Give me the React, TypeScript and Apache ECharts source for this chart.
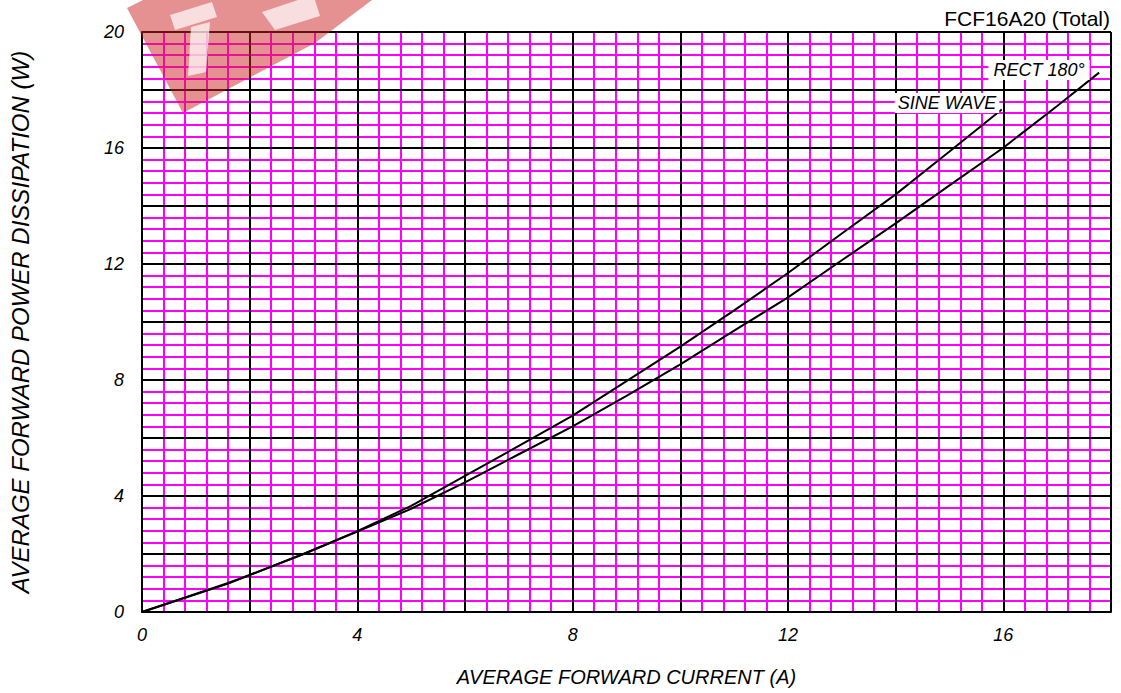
import React, { useEffect, useRef } from "react";
import * as echarts from "echarts";

const xTicks = [0, 4, 8, 12, 16];
const yTicks = [0, 4, 8, 12, 16, 20];

const sineX = [0, 1.6, 2, 3, 4, 5, 6, 7, 8, 9, 10, 11, 12, 13, 14, 15, 15.97];
const sineY = [0, 1.0, 1.28, 2.0, 2.79, 3.66, 4.69, 5.73, 6.77, 7.96, 9.15, 10.4, 11.69, 13.05, 14.4, 15.88, 17.33];

const rectX = [0, 1.6, 2, 3, 4, 5, 6, 7, 8, 9, 10, 11, 12, 13, 14, 15, 16, 17, 17.78];
const rectY = [0, 0.98, 1.27, 2.0, 2.77, 3.56, 4.47, 5.44, 6.4, 7.45, 8.54, 9.7, 10.85, 12.13, 13.4, 14.71, 16.01, 17.45, 18.6];

const titleText = "FCF16A20 (Total)";
const xName = "AVERAGE FORWARD CURRENT (A)";
const yName = "AVERAGE FORWARD POWER DISSIPATION (W)";
const sineLabel = "SINE WAVE";
const rectLabel = "RECT 180°";

const FONT = "'Liberation Sans', Arial, sans-serif";

export default function App() {
  const ref = useRef<HTMLDivElement>(null);
  useEffect(() => {
    if (!ref.current) return;
    const chart = echarts.init(ref.current, null, { renderer: "svg" });
    const pair = (xs: number[], ys: number[]) => xs.map((x, i) => [x, ys[i]]);
    const minorAxisCommon = {
      type: "value",
      min: 0,
      axisLine: { show: false },
      axisTick: { show: false },
      axisLabel: { show: false },
      splitLine: { show: true, lineStyle: { color: "#ff00ff", width: 2 } },
      z: 0,
    };
    const option: any = {
      animation: false,
      backgroundColor: "#ffffff",
      grid: { left: 140, right: 10, top: 32, bottom: 81, containLabel: false },
      xAxis: [
        { ...minorAxisCommon, max: 18, interval: 0.4, position: "bottom" },
        {
          type: "value",
          min: 0,
          max: 18,
          interval: 2,
          position: "bottom",
          z: 1,
          axisLine: { show: true, lineStyle: { color: "#000", width: 2 } },
          axisTick: { show: false },
          splitLine: { show: true, lineStyle: { color: "#000", width: 2 } },
          axisLabel: {
            margin: 14,
            fontFamily: FONT,
            fontStyle: "italic",
            fontSize: 18,
            color: "#000",
            formatter: (v: number) => (xTicks.includes(v) ? String(v) : ""),
          },
          name: xName,
          nameLocation: "middle",
          nameGap: 55,
          nameTextStyle: { fontFamily: FONT, fontStyle: "italic", fontSize: 20, color: "#000" },
        },
      ],
      yAxis: [
        { ...minorAxisCommon, max: 20, interval: 0.4, position: "left" },
        {
          type: "value",
          min: 0,
          max: 20,
          interval: 2,
          position: "left",
          z: 1,
          axisLine: { show: true, lineStyle: { color: "#000", width: 2 } },
          axisTick: { show: false },
          splitLine: { show: true, lineStyle: { color: "#000", width: 2 } },
          axisLabel: {
            margin: 18,
            fontFamily: FONT,
            fontStyle: "italic",
            fontSize: 18,
            color: "#000",
            formatter: (v: number) => (yTicks.includes(v) ? String(v) : ""),
          },
          name: yName,
          nameLocation: "middle",
          nameGap: 110,
          nameTextStyle: { fontFamily: FONT, fontStyle: "italic", fontSize: 24, color: "#000" },
        },
      ],
      series: [
        {
          name: sineLabel,
          type: "line",
          xAxisIndex: 1,
          yAxisIndex: 1,
          data: pair(sineX, sineY),
          symbol: "none",
          lineStyle: { color: "#000", width: 2 },
          z: 5,
        },
        {
          name: rectLabel,
          type: "line",
          xAxisIndex: 1,
          yAxisIndex: 1,
          data: pair(rectX, rectY),
          symbol: "none",
          lineStyle: { color: "#000", width: 2 },
          z: 5,
        },
      ],
      graphic: [
        {
          type: "polygon",
          z: 100,
          shape: { points: [[127, 8], [183, 113], [315, 43], [372, 0], [143, 0]] },
          style: { fill: "rgba(205,35,35,0.5)" },
        },
        {
          type: "polygon",
          z: 101,
          shape: { points: [[170, 15], [212, 2], [217, 17], [175, 30]] },
          style: { fill: "rgba(255,255,255,0.7)" },
        },
        {
          type: "polygon",
          z: 101,
          shape: { points: [[191, 27], [210, 22], [206, 72], [188, 76]] },
          style: { fill: "rgba(255,255,255,0.7)" },
        },
        {
          type: "polygon",
          z: 101,
          shape: { points: [[262, 12], [275, 30], [320, 16], [315, 0], [298, 0]] },
          style: { fill: "rgba(255,255,255,0.7)" },
        },
        {
          type: "text",
          z: 110,
          x: 1110,
          y: 18,
          style: {
            text: titleText,
            fill: "#000",
            font: `21px ${FONT}`,
            textAlign: "right",
            textVerticalAlign: "middle",
          },
        },
        {
          type: "text",
          z: 110,
          x: 947,
          y: 103,
          style: {
            text: sineLabel,
            fill: "#000",
            font: `italic 18px ${FONT}`,
            textAlign: "center",
            textVerticalAlign: "middle",
            backgroundColor: "#fff",
            padding: [1, 3],
          },
        },
        {
          type: "text",
          z: 110,
          x: 1039,
          y: 70,
          style: {
            text: rectLabel,
            fill: "#000",
            font: `italic 18px ${FONT}`,
            textAlign: "center",
            textVerticalAlign: "middle",
            backgroundColor: "#fff",
            padding: [1, 5],
          },
        },
      ],
    };
    chart.setOption(option);
    return () => chart.dispose();
  }, []);
  return (
    <div
      ref={ref}
      style={{ position: "fixed", left: 0, top: 0, width: 1121, height: 693, background: "#fff" }}
    />
  );
}
